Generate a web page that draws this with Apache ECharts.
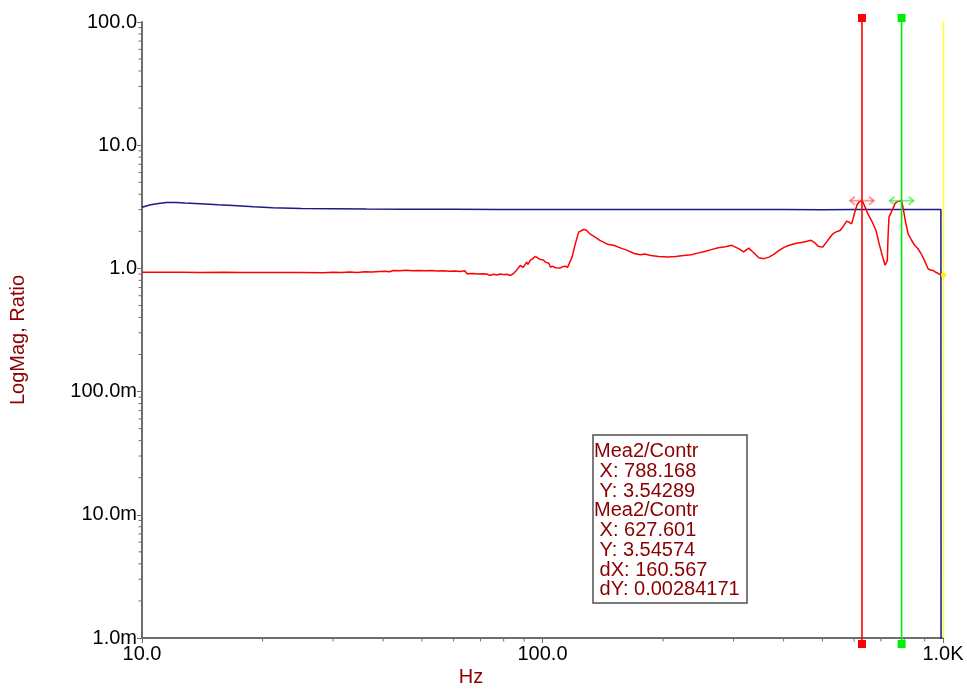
<!DOCTYPE html>
<html>
<head>
<meta charset="utf-8">
<script src="https://cdn.jsdelivr.net/npm/echarts@6/dist/echarts.min.js"></script>
<style>
html,body{margin:0;padding:0;background:#fff;}
#chart{width:967px;height:689px;}
</style>
</head>
<body>
<div id="chart"></div>
<script>
// ---- tick labels ----
var xTickValues = [10, 100, 1000];
var xTickLabels = ["10.0", "100.0", "1.0K"];
var yTickValues = [0.001, 0.01, 0.1, 1, 10, 100];
var yTickLabels = ["1.0m", "10.0m", "100.0m", "1.0", "10.0", "100.0"];
var minorMantissas = [2, 3, 4, 5, 6, 7, 8, 9];

// ---- red trace (Hz, ratio) ----
var redFreq = [10, 11, 12.5, 14, 16, 18, 20, 22.1, 25, 28.3, 30, 31.5, 33, 34.5, 36, 37.5, 39.3, 40.5, 41.5, 42.4,
  44, 45.5, 47.5, 49, 51, 53, 54.5, 56.5, 58.5, 60.5, 62.3, 64, 64.8, 67, 69, 71, 72.6, 73.9, 75.5, 77,
  78.4, 80, 81.5, 83.1, 84.5, 86.1, 87, 88, 89.5, 91.3, 92, 93.2, 94.5, 95.9, 97, 98.8, 100.5, 101.7, 103.7, 104.7,
  106, 107.8, 108.8, 110.7, 112, 114, 115.5, 116.8, 118.5, 120.8, 123.1, 126.7, 128.5, 131.3, 135, 139.1, 146, 150.5, 157, 162.8,
  169.3, 175.8, 180, 182, 186.3, 195, 205.3, 215, 225, 235.1, 244, 254.1, 264, 274.7, 286, 296.9, 308.6, 317.8, 327.2, 336.8,
  346.9, 357.2, 367.6, 378, 389.8, 401, 413.2, 430, 446.5, 458, 468.2, 478, 486.8, 494, 501.1, 515.7, 530.8, 541, 553.2, 564,
  574.5, 582, 591.2, 596.3, 603, 610.5, 618, 627.601, 633, 640, 649, 665, 680.3, 692.5, 705, 716.9, 722, 726.1, 729, 733.1,
  746.3, 760.2, 772, 788.168, 795.7, 806, 818.1, 834, 849.7, 865, 881.6, 900, 917.6, 930, 944.5, 960, 981.6, 1000];
var redVal = [0.93, 0.93, 0.93, 0.928, 0.93, 0.928, 0.927, 0.925, 0.925, 0.923, 0.93, 0.925, 0.935, 0.928, 0.94, 0.935, 0.945, 0.95, 0.94, 0.963,
  0.955, 0.965, 0.958, 0.962, 0.955, 0.96, 0.952, 0.957, 0.948, 0.952, 0.945, 0.958, 0.905, 0.91, 0.9, 0.905, 0.9, 0.877, 0.895, 0.885,
  0.9, 0.89, 0.895, 0.877, 0.905, 0.963, 0.94, 1.057, 1.02, 1.125, 1.08, 1.16, 1.2, 1.25, 1.22, 1.18, 1.17, 1.125, 1.1, 1.025,
  1.04, 1.013, 1.05, 1.006, 1.03, 1.04, 1.02, 1.04, 1.235, 1.59, 1.97, 2.07, 2.05, 1.91, 1.8, 1.69, 1.56, 1.54, 1.46, 1.40,
  1.32, 1.29, 1.31, 1.27, 1.275, 1.25, 1.235, 1.25, 1.27, 1.29, 1.33, 1.37, 1.42, 1.47, 1.5, 1.54, 1.445, 1.36, 1.46, 1.34,
  1.22, 1.20, 1.235, 1.3, 1.4, 1.48, 1.54, 1.6, 1.63, 1.66, 1.69, 1.62, 1.52, 1.5, 1.49, 1.69, 1.91, 1.98, 2.03, 2.2,
  2.42, 2.38, 2.30, 2.23, 2.9, 3.3, 3.48, 3.54574, 3.38, 3.1, 2.78, 2.4, 2.03, 1.59, 1.28, 1.06, 1.1, 1.16, 1.8, 2.61,
  2.96, 3.39, 3.5, 3.54289, 3.05, 2.4, 1.91, 1.7, 1.54, 1.45, 1.32, 1.15, 0.994, 0.97, 0.963, 0.93, 0.894, 0.882];

// ---- blue trace (Hz, ratio) ----
var blueFreq = [10, 10.5, 11, 11.5, 12.2, 12.8, 14, 15.5, 16.9, 19, 21.2, 25, 30, 36.4, 45, 60, 78.3, 100, 150, 200, 300, 400, 500, 600, 700, 800, 900, 988, 989];
var blueVal  = [3.14, 3.28, 3.37, 3.42, 3.43, 3.40, 3.35, 3.28, 3.24, 3.16, 3.11, 3.07, 3.05, 3.03, 3.02, 3.015, 3.01, 3.0, 3.0, 3.0, 3.0, 3.0, 2.99, 3.0, 3.0, 3.0, 3.0, 3.0, 0.0005];

// ---- cursors ----
var cursorFreq = [627.601, 788.168];
var cursorVal = [3.54574, 3.54289];
var endMarkerFreq = [1000];
var endMarkerVal = [0.882];

// ---- readout box ----
var readoutLines = ["Mea2/Contr", " X: 788.168", " Y: 3.54289", "Mea2/Contr", " X: 627.601", " Y: 3.54574", " dX: 160.567", " dY: 0.00284171"];

var FONT = "'Liberation Sans', Arial, sans-serif";
var DARKRED = "#8B0000";
var AXISGRAY = "#6e6e6e";
var X_MIN = 10, X_MAX = 1000, Y_MIN = 0.001, Y_MAX = 100;

function zip(a, b) { return a.map(function (v, i) { return [v, b[i]]; }); }
function labelFor(values, labels, v) {
  var lv = Math.log10(v);
  for (var i = 0; i < values.length; i++) {
    if (Math.abs(Math.log10(values[i]) - lv) < 1e-6) return labels[i];
  }
  return "";
}

var xMinor = [], yMinor = [];
[10, 100].forEach(function (d) { minorMantissas.forEach(function (m) { xMinor.push([d * m, Y_MIN, 0]); }); });
[0.001, 0.01, 0.1, 1, 10].forEach(function (d) { minorMantissas.forEach(function (m) { yMinor.push([X_MIN, d * m, 1]); }); });

var cursorColors = ["#ff0000", "#00ee00"];
var arrowColors = ["rgba(255,60,60,0.55)", "rgba(40,230,40,0.6)"];

var chart = echarts.init(document.getElementById('chart'), null, { renderer: 'canvas' });
chart.setOption({
  animation: false,
  backgroundColor: '#ffffff',
  grid: { left: 142, top: 22, width: 801, height: 616, containLabel: false },
  xAxis: {
    type: 'log', logBase: 10, min: X_MIN, max: X_MAX,
    splitLine: { show: false },
    axisLine: { show: true, lineStyle: { color: AXISGRAY, width: 2 } },
    axisTick: { show: true, inside: false, length: 5, lineStyle: { color: AXISGRAY, width: 1 } },
    axisLabel: {
      show: true, margin: 6, color: '#000', fontSize: 20, fontFamily: FONT,
      showMinLabel: true, showMaxLabel: true,
      formatter: function (v) { return labelFor(xTickValues, xTickLabels, v); }
    }
  },
  yAxis: {
    type: 'log', logBase: 10, min: Y_MIN, max: Y_MAX,
    splitLine: { show: false },
    axisLine: { show: true, lineStyle: { color: AXISGRAY, width: 2 } },
    axisTick: { show: true, inside: false, length: 5, lineStyle: { color: AXISGRAY, width: 1 } },
    axisLabel: {
      show: true, margin: 5, color: '#000', fontSize: 20, fontFamily: FONT,
      showMinLabel: true, showMaxLabel: true,
      formatter: function (v) { return labelFor(yTickValues, yTickLabels, v); }
    }
  },
  graphic: [
    { type: 'text', x: 18, y: 340, rotation: Math.PI / 2,
      style: { text: 'LogMag, Ratio', fill: DARKRED, font: '20px ' + FONT, align: 'center', verticalAlign: 'middle' } },
    { type: 'text', x: 471, y: 677,
      style: { text: 'Hz', fill: DARKRED, font: '20px ' + FONT, align: 'center', verticalAlign: 'middle' } },
    { type: 'group', x: 593, y: 435, z: 100, children: [
      { type: 'rect', shape: { x: 0, y: 0, width: 154, height: 168 },
        style: { fill: '#fff', stroke: '#505050', lineWidth: 1.5 } },
      { type: 'text', x: 1, y: 7,
        style: { text: readoutLines.join('\n'), fill: DARKRED, font: '20px ' + FONT, lineHeight: 19.7, align: 'left', verticalAlign: 'top' } }
    ] }
  ],
  series: [
    {
      name: 'Blue', type: 'line', data: zip(blueFreq, blueVal), symbol: 'none', showSymbol: false, clip: true,
      lineStyle: { color: '#1a1a88', width: 1.5 }, z: 2
    },
    {
      name: 'Red', type: 'line', data: zip(redFreq, redVal), symbol: 'none', showSymbol: false, clip: true,
      lineStyle: { color: '#ff0000', width: 1.5 }, z: 3
    },
    {
      name: 'minorTicks', type: 'custom', clip: false, silent: true, z: 5,
      data: xMinor.concat(yMinor),
      renderItem: function (params, api) {
        var p = api.coord([api.value(0), api.value(1)]);
        var isY = api.value(2) === 1;
        var shape = isY ? { x1: p[0] - 3.5, y1: p[1], x2: p[0], y2: p[1] }
                        : { x1: p[0], y1: p[1], x2: p[0], y2: p[1] + 3.5 };
        return { type: 'line', shape: shape, style: { stroke: AXISGRAY, lineWidth: 1 } };
      }
    },
    {
      name: 'endMarker', type: 'custom', clip: false, silent: true, z: 6,
      data: zip(endMarkerFreq, endMarkerVal),
      renderItem: function (params, api) {
        var x = api.value(0);
        var top = api.coord([x, Y_MAX]);
        var bot = api.coord([x, Y_MIN]);
        var pt = api.coord([x, api.value(1)]);
        return { type: 'group', children: [
          { type: 'line', shape: { x1: top[0] + 0.5, y1: top[1] - 1, x2: bot[0] + 0.5, y2: bot[1] }, style: { stroke: '#ffff33', lineWidth: 1.5 } },
          { type: 'circle', shape: { cx: pt[0] + 0.5, cy: pt[1], r: 2.5 }, style: { fill: '#ffee00' } }
        ] };
      }
    },
    {
      name: 'cursors', type: 'custom', clip: false, silent: true, z: 10,
      data: zip(cursorFreq, cursorVal),
      renderItem: function (params, api) {
        var i = params.dataIndex;
        var x = api.value(0);
        var top = api.coord([x, Y_MAX]);
        var bot = api.coord([x, Y_MIN]);
        var c = api.coord([x, api.value(1)]);
        var col = cursorColors[i], acol = arrowColors[i];
        var ty = top[1] - 4, by = bot[1] + 6;
        var h = 12;
        return { type: 'group', children: [
          { type: 'line', shape: { x1: c[0], y1: ty, x2: c[0], y2: by }, style: { stroke: col, lineWidth: 1.6 } },
          { type: 'rect', shape: { x: c[0] - 4, y: ty - 4, width: 8, height: 8 }, style: { fill: col } },
          { type: 'rect', shape: { x: c[0] - 4, y: by - 4, width: 8, height: 8 }, style: { fill: col } },
          { type: 'line', shape: { x1: c[0] - h, y1: c[1], x2: c[0] + h, y2: c[1] }, style: { stroke: acol, lineWidth: 1.8 } },
          { type: 'polyline', shape: { points: [[c[0] - h + 5, c[1] - 4], [c[0] - h, c[1]], [c[0] - h + 5, c[1] + 4]] }, style: { stroke: acol, fill: null, lineWidth: 1.8 } },
          { type: 'polyline', shape: { points: [[c[0] + h - 5, c[1] - 4], [c[0] + h, c[1]], [c[0] + h - 5, c[1] + 4]] }, style: { stroke: acol, fill: null, lineWidth: 1.8 } }
        ] };
      }
    }
  ]
});
</script>
</body>
</html>
